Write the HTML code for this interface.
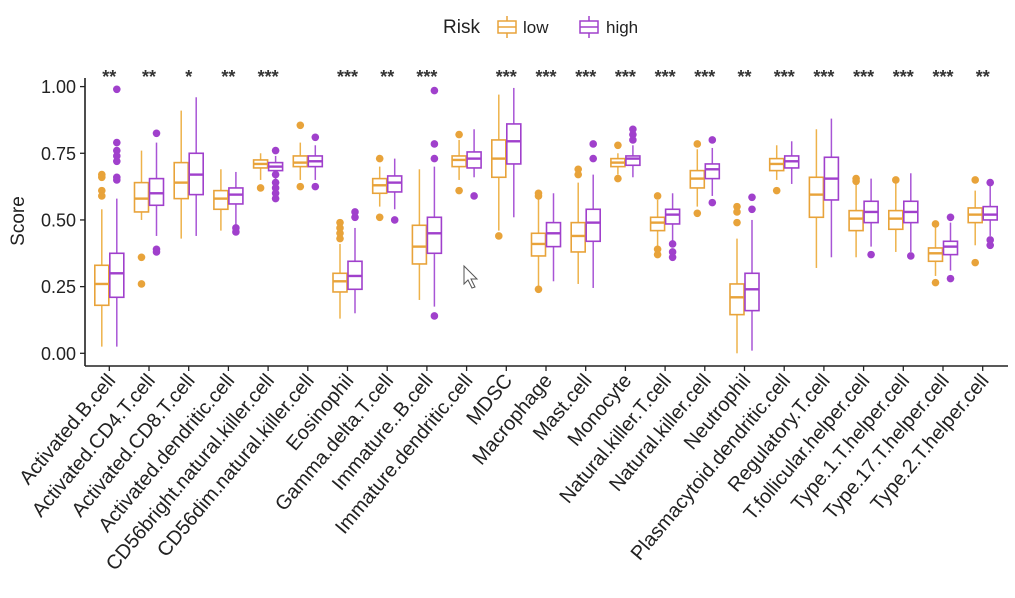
<!DOCTYPE html>
<html><head><meta charset="utf-8">
<style>
html,body{margin:0;padding:0;background:#fff;}
svg{display:block;font-family:"Liberation Sans",Arial,sans-serif;}
</style></head>
<body>
<svg id="chart" width="1015" height="598" viewBox="0 0 1015 598" xmlns="http://www.w3.org/2000/svg">
  <g>
    <text x="443" y="33" font-size="19" fill="#222">Risk</text>
    <g>
      <line x1="507" y1="16" x2="507" y2="38" stroke="#e8a33a" stroke-width="1.5"/>
      <rect x="498" y="21" width="18" height="12" fill="#fff" stroke="#e8a33a" stroke-width="1.5"/>
      <line x1="498" y1="27" x2="516" y2="27" stroke="#e8a33a" stroke-width="1.5"/>
      <text x="523" y="33" font-size="17" fill="#222">low</text>
    </g>
    <g>
      <line x1="589" y1="16" x2="589" y2="38" stroke="#a040cc" stroke-width="1.5"/>
      <rect x="580" y="21" width="18" height="12" fill="#fff" stroke="#a040cc" stroke-width="1.5"/>
      <line x1="580" y1="27" x2="598" y2="27" stroke="#a040cc" stroke-width="1.5"/>
      <text x="606" y="33" font-size="17" fill="#222">high</text>
    </g>
  </g>
  <g id="plot"></g>
  <g>
    <polygon points="464,266 464,284 468,280 472,288 475,287 471,279 477,279" fill="#fff" stroke="#555" stroke-width="1"/>
  </g>
</svg>
<script>
const categories = ["Activated.B.cell","Activated.CD4.T.cell","Activated.CD8.T.cell","Activated.dendritic.cell","CD56bright.natural.killer.cell","CD56dim.natural.killer.cell","Eosinophil","Gamma.delta.T.cell","Immature..B.cell","Immature.dendritic.cell","MDSC","Macrophage","Mast.cell","Monocyte","Natural.killer.T.cell","Natural.killer.cell","Neutrophil","Plasmacytoid.dendritic.cell","Regulatory.T.cell","T.follicular.helper.cell","Type.1.T.helper.cell","Type.17.T.helper.cell","Type.2.T.helper.cell"];
const significance = ["**","**","*","**","***","","***","**","***","","***","***","***","***","***","***","**","***","***","***","***","***","**"];
// [lowerWhisker, q1, median, q3, upperWhisker]
const lowStats = [
[0.025,0.18,0.26,0.33,0.54],[0.50,0.53,0.58,0.64,0.76],[0.43,0.58,0.64,0.715,0.91],[0.46,0.54,0.58,0.61,0.69],
[0.65,0.695,0.71,0.725,0.75],[0.65,0.70,0.715,0.74,0.79],[0.13,0.23,0.27,0.30,0.41],[0.55,0.60,0.63,0.655,0.70],
[0.20,0.335,0.40,0.48,0.69],[0.65,0.70,0.725,0.74,0.80],[0.46,0.66,0.73,0.80,0.97],[0.25,0.365,0.41,0.45,0.58],
[0.26,0.38,0.44,0.49,0.64],[0.67,0.70,0.715,0.73,0.75],[0.395,0.46,0.49,0.51,0.575],[0.55,0.62,0.655,0.685,0.765],
[0.0,0.145,0.21,0.26,0.43],[0.65,0.685,0.71,0.73,0.78],[0.32,0.51,0.595,0.66,0.84],[0.36,0.46,0.505,0.535,0.64],
[0.38,0.465,0.505,0.535,0.64],[0.29,0.345,0.375,0.395,0.475],[0.405,0.49,0.52,0.545,0.61]];
const highStats = [
[0.025,0.21,0.30,0.375,0.58],[0.44,0.555,0.60,0.655,0.79],[0.44,0.595,0.67,0.75,0.96],[0.48,0.56,0.595,0.62,0.68],
[0.65,0.685,0.70,0.715,0.74],[0.65,0.70,0.72,0.74,0.78],[0.15,0.24,0.29,0.345,0.47],[0.54,0.605,0.64,0.665,0.73],
[0.175,0.375,0.45,0.51,0.70],[0.66,0.695,0.73,0.755,0.84],[0.51,0.71,0.795,0.86,0.995],[0.27,0.40,0.45,0.49,0.60],
[0.245,0.42,0.49,0.54,0.67],[0.66,0.705,0.73,0.74,0.78],[0.42,0.485,0.52,0.54,0.60],[0.59,0.655,0.69,0.71,0.77],
[0.01,0.16,0.24,0.30,0.50],[0.635,0.695,0.72,0.74,0.795],[0.36,0.575,0.655,0.735,0.88],[0.40,0.49,0.53,0.57,0.655],
[0.38,0.49,0.53,0.57,0.675],[0.31,0.37,0.40,0.42,0.49],[0.44,0.50,0.52,0.55,0.63]];
const lowOutliers = [[0.67,0.66,0.61,0.59],[0.36,0.26],[],[],[0.62],[0.855,0.625],[0.49,0.47,0.45,0.43],[0.73,0.51],[],[0.82,0.61],[0.44],[0.60,0.59,0.24],[0.69,0.67],[0.78,0.655],[0.59,0.39,0.37],[0.785,0.525],[0.55,0.53,0.49],[0.61],[],[0.655,0.645],[0.65],[0.485,0.265],[0.65,0.34]];
const highOutliers = [[0.99,0.79,0.76,0.74,0.72,0.66,0.65],[0.825,0.39,0.38],[],[0.47,0.455],[0.76,0.67,0.64,0.62,0.60,0.58],[0.81,0.625],[0.53,0.51],[0.50],[0.985,0.785,0.73,0.14],[0.59],[],[],[0.785,0.73],[0.84,0.82,0.80],[0.41,0.38,0.36],[0.80,0.565],[0.585,0.54],[],[],[0.37],[0.365],[0.51,0.28],[0.64,0.425,0.405]];
const yTicks = [0,0.25,0.5,0.75,1.0];
const yTickLabels = ["0.00","0.25","0.50","0.75","1.00"];

const NS="http://www.w3.org/2000/svg";
const plot=document.getElementById('plot');
const X0=85, Y0=366, y = v => 353.3 - v*266.7;
const x = i => 109.3 + i*39.7;
const LOW="#e8a33a", LOWW="#eeb24a", HIGH="#a040cc", HIGHW="#a855d6";
function mk(tag,attrs,parent){const e=document.createElementNS(NS,tag);for(const k in attrs)e.setAttribute(k,attrs[k]);(parent||plot).appendChild(e);return e;}

const ya=mk('line',{x1:X0,y1:78,x2:X0,y2:Y0,stroke:'#222','stroke-width':1.6});


const xa=mk('line',{x1:X0,y1:Y0,x2:1008,y2:Y0,stroke:'#222','stroke-width':1.6});


yTicks.forEach((t,i)=>{
  mk('line',{x1:X0-5,y1:y(t),x2:X0,y2:y(t),stroke:'#222','stroke-width':1.3});
  const tl=mk('text',{x:X0-9,y:y(t)+6.5,'text-anchor':'end','font-size':18,fill:'#222'});
  tl.textContent=yTickLabels[i];
  
  
});
const yt=mk('text',{x:0,y:0,'font-size':19,fill:'#222','text-anchor':'middle',transform:'translate(24,221) rotate(-90)'});
yt.textContent='Score';



function box(cx,s,outs,col,wcol,name){
  const g=mk('g',{});
  
  
  const w=14;
  mk('line',{x1:cx,y1:y(s[4]),x2:cx,y2:y(s[3]),stroke:wcol,'stroke-width':1.5},g);
  mk('line',{x1:cx,y1:y(s[1]),x2:cx,y2:y(s[0]),stroke:wcol,'stroke-width':1.5},g);
  mk('rect',{x:cx-w/2,y:y(s[3]),width:w,height:y(s[1])-y(s[3]),fill:'#fff',stroke:col,'stroke-width':1.6},g);
  mk('line',{x1:cx-w/2,y1:y(s[2]),x2:cx+w/2,y2:y(s[2]),stroke:col,'stroke-width':2.4},g);
  outs.forEach(o=>mk('circle',{cx:cx,cy:y(o),r:3.8,fill:col},g));
}
categories.forEach((c,i)=>{
  const cx=x(i);
  box(cx-7.5,lowStats[i],lowOutliers[i],LOW,LOWW,'box-low-'+i);
  box(cx+7.5,highStats[i],highOutliers[i],HIGH,HIGHW,'box-high-'+i);
  mk('line',{x1:cx,y1:Y0,x2:cx,y2:Y0+5,stroke:'#222','stroke-width':1.3});
  const lab=mk('text',{x:0,y:0,'text-anchor':'end','font-size':20,fill:'#222',transform:`translate(${cx+7},${Y0+15}) rotate(-50)`});
  lab.textContent=c;
  
  
  if(significance[i]){
    const st=mk('text',{x:cx,y:83,'text-anchor':'middle','font-size':18,'font-weight':'bold',fill:'#333'});
    st.textContent=significance[i];
    
    
  }
});
</script>
</body></html>
